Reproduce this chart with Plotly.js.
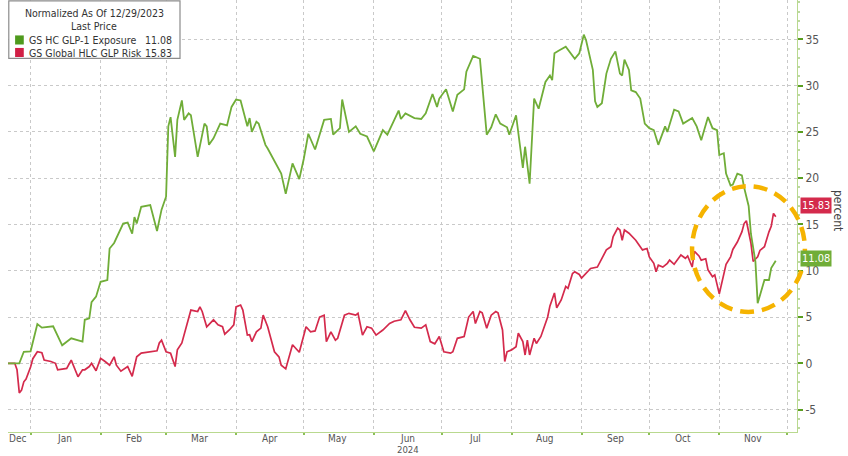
<!DOCTYPE html>
<html><head><meta charset="utf-8">
<script src="https://cdn.plot.ly/plotly-3.0.1.min.js"></script>
<style>html,body{margin:0;padding:0;background:#fff}#chart{width:848px;height:456px}</style>
</head><body><div id="chart"></div>
<script>
const seriesNames = ['GS HC GLP-1 Exposure', 'GS Global HLC GLP Risk'];
const lastPrices = [11.08, 15.83];
const headerLines = ['Normalized As Of 12/29/2023', 'Last Price'];

const glpDates = ['2023-12-22','2023-12-25','2023-12-27','2023-12-29','2024-01-01','2024-01-04','2024-01-06','2024-01-11','2024-01-15','2024-01-19',
'2024-01-24','2024-01-25','2024-01-27','2024-01-28','2024-01-30','2024-02-01','2024-02-04','2024-02-05','2024-02-07','2024-02-11',
'2024-02-13','2024-02-15','2024-02-16','2024-02-17','2024-02-19','2024-02-23','2024-02-26','2024-02-28','2024-03-01','2024-03-02',
'2024-03-03','2024-03-05','2024-03-06','2024-03-08','2024-03-09','2024-03-11','2024-03-12','2024-03-15','2024-03-18','2024-03-19',
'2024-03-20','2024-03-22','2024-03-25','2024-03-28','2024-03-30','2024-04-01','2024-04-03','2024-04-06','2024-04-07','2024-04-08',
'2024-04-10','2024-04-11','2024-04-14','2024-04-15','2024-04-18','2024-04-21','2024-04-23','2024-04-26','2024-04-29','2024-05-01',
'2024-05-03','2024-05-06','2024-05-10','2024-05-13','2024-05-14','2024-05-17','2024-05-18','2024-05-21','2024-05-24','2024-05-26',
'2024-05-29','2024-06-01','2024-06-05','2024-06-07','2024-06-12','2024-06-13','2024-06-15','2024-06-19','2024-06-22','2024-06-24',
'2024-06-27','2024-06-29','2024-06-30','2024-07-03','2024-07-06','2024-07-08','2024-07-11','2024-07-12','2024-07-15','2024-07-18',
'2024-07-21','2024-07-23','2024-07-25','2024-07-27','2024-07-30','2024-07-31','2024-08-03','2024-08-06','2024-08-07','2024-08-09',
'2024-08-11','2024-08-13','2024-08-16','2024-08-18','2024-08-19','2024-08-20','2024-08-22','2024-08-25','2024-08-29','2024-08-31',
'2024-09-02','2024-09-03','2024-09-06','2024-09-07','2024-09-08','2024-09-10','2024-09-12','2024-09-14','2024-09-16','2024-09-18',
'2024-09-19','2024-09-20','2024-09-22','2024-09-23','2024-09-25','2024-09-27','2024-09-29','2024-10-01','2024-10-03','2024-10-05',
'2024-10-08','2024-10-09','2024-10-12','2024-10-14','2024-10-16','2024-10-20','2024-10-22','2024-10-24','2024-10-27','2024-10-29',
'2024-10-31','2024-11-01','2024-11-03','2024-11-04','2024-11-06','2024-11-07','2024-11-09','2024-11-11','2024-11-12','2024-11-14',
'2024-11-15','2024-11-17','2024-11-18','2024-11-20','2024-11-21','2024-11-23','2024-11-24','2024-11-26'];
const glpValues = [0,0,0,1.25,1.3,4.25,3.85,4.0,1.95,2.7,
2.35,4.7,4.85,6.6,7.2,8.8,9.0,12.4,13.0,15.1,
15.2,14.0,15.8,15.1,16.9,17.1,14.3,16.6,18.0,25.6,
26.6,22.3,26.3,28.4,26.3,27.0,26.8,22.3,25.9,25.6,
23.6,24.3,25.9,25.7,27.7,28.5,28.4,25.6,26.5,25.0,
26.1,25.9,23.6,23.2,21.8,20.5,18.3,21.6,19.9,22.1,
24.8,23.1,26.3,26.4,24.7,25.4,28.5,25.0,25.6,24.8,
24.5,22.9,25.2,24.7,27.3,26.4,27.0,26.5,26.4,27.0,
29.1,27.7,28.6,29.6,27.2,29.0,29.6,31.5,33.2,32.9,
24.7,25.5,26.9,25.9,25.5,24.7,26.8,21.1,23.4,19.4,
28.6,27.5,30.4,31.1,30.6,33.5,33.8,34.2,32.9,33.5,
35.5,34.9,31.7,28.3,27.7,28.1,31.3,32.9,33.7,31.3,
31.1,32.8,31.7,29.5,29.3,28.6,25.9,25.4,25.2,23.6,
25.6,25.0,27.4,27.2,25.9,26.5,25.6,24.1,26.6,25.4,
25.2,22.5,22.7,20.5,19.2,19.3,20.5,20.3,19.0,17.0,
14.0,11.0,6.5,8.0,9.0,9.0,10.3,11.08];

const hlcDates = ['2023-12-22','2023-12-25','2023-12-26','2023-12-27','2023-12-28','2023-12-29','2023-12-30','2024-01-01','2024-01-02','2024-01-04',
'2024-01-06','2024-01-07','2024-01-10','2024-01-12','2024-01-13','2024-01-15','2024-01-17','2024-01-19','2024-01-20','2024-01-22',
'2024-01-24','2024-01-25','2024-01-27','2024-01-28','2024-01-30','2024-02-01','2024-02-03','2024-02-05','2024-02-07','2024-02-08',
'2024-02-10','2024-02-12','2024-02-13','2024-02-15','2024-02-17','2024-02-19','2024-02-21','2024-02-24','2024-02-26','2024-02-27',
'2024-02-28','2024-03-01','2024-03-03','2024-03-05','2024-03-06','2024-03-08','2024-03-12','2024-03-15','2024-03-16','2024-03-17',
'2024-03-19','2024-03-22','2024-03-24','2024-03-26','2024-03-27','2024-03-29','2024-03-31','2024-04-01','2024-04-03','2024-04-04',
'2024-04-06','2024-04-07','2024-04-08','2024-04-10','2024-04-12','2024-04-13','2024-04-15','2024-04-18','2024-04-20','2024-04-21',
'2024-04-23','2024-04-26','2024-04-29','2024-05-02','2024-05-04','2024-05-06','2024-05-08','2024-05-10','2024-05-11','2024-05-13',
'2024-05-15','2024-05-16','2024-05-19','2024-05-21','2024-05-24','2024-05-25','2024-05-27','2024-05-29','2024-05-31','2024-06-02',
'2024-06-05','2024-06-08','2024-06-10','2024-06-13','2024-06-15','2024-06-17','2024-06-19','2024-06-22','2024-06-24','2024-06-26',
'2024-06-28','2024-06-30','2024-07-02','2024-07-05','2024-07-06','2024-07-08','2024-07-11','2024-07-13','2024-07-15','2024-07-16',
'2024-07-18','2024-07-19','2024-07-21','2024-07-23','2024-07-25','2024-07-26','2024-07-28','2024-07-29','2024-07-30','2024-08-01',
'2024-08-03','2024-08-04','2024-08-06','2024-08-07','2024-08-08','2024-08-09','2024-08-11','2024-08-12','2024-08-14','2024-08-17',
'2024-08-18','2024-08-20','2024-08-21','2024-08-23','2024-08-25','2024-08-26','2024-08-28','2024-08-29','2024-08-31','2024-09-01',
'2024-09-03','2024-09-05','2024-09-08','2024-09-10','2024-09-12','2024-09-14','2024-09-15','2024-09-17','2024-09-18','2024-09-19',
'2024-09-20','2024-09-22','2024-09-25','2024-09-27','2024-09-28','2024-09-30','2024-10-01','2024-10-03','2024-10-04','2024-10-05',
'2024-10-07','2024-10-09','2024-10-10','2024-10-12','2024-10-14','2024-10-15','2024-10-17','2024-10-18','2024-10-20','2024-10-21',
'2024-10-23','2024-10-24','2024-10-26','2024-10-27','2024-10-29','2024-10-30','2024-11-01','2024-11-02','2024-11-04','2024-11-06',
'2024-11-07','2024-11-09','2024-11-11','2024-11-12','2024-11-13','2024-11-15','2024-11-16','2024-11-18','2024-11-19','2024-11-21',
'2024-11-22','2024-11-23','2024-11-24','2024-11-25','2024-11-26'];
const hlcValues = [0,0,-0.7,-3.2,-2.9,-2.0,-1.7,-0.4,0.5,1.25,
1.15,0.35,0.2,0.0,-0.7,-0.65,-0.55,0.35,-0.2,-1.45,
-0.7,-0.7,-0.35,0.0,-0.8,0.55,0.2,-0.2,0.7,-0.2,
-0.85,-0.55,-0.35,-1.4,0.7,1.1,1.15,1.25,1.35,2.2,
2.5,1.25,1.1,-0.35,1.45,2.2,5.75,5.6,6.1,5.6,
3.95,4.7,4.15,3.95,3.15,3.6,4.15,6.1,6.3,5.75,
3.05,3.1,2.35,3.4,3.8,5.2,3.95,1.25,0.7,-0.2,
-0.6,2.0,1.2,3.95,3.4,3.5,5.0,5.2,2.35,3.4,
2.5,2.7,5.2,5.4,5.2,5.4,3.05,3.95,3.8,3.05,
3.6,4.3,4.55,4.7,5.7,4.7,3.9,3.8,4.15,2.35,
2.1,2.9,1.25,1.1,1.25,2.7,2.9,5.0,5.6,4.3,
5.6,5.45,3.8,5.2,5.6,5.45,3.6,0.2,1.25,1.45,
1.8,3.25,2.35,0.9,2.5,0.9,2.7,2.15,2.9,5.0,
6.2,7.6,6.0,6.85,8.3,8.1,9.7,9.9,9.6,9.2,
9.7,10.25,10.4,11.35,12.25,12.6,13.7,14.6,14.4,13.3,
14.4,14.05,13.3,12.6,12.25,12.4,11.5,10.8,9.9,10.6,
10.4,10.8,11.15,10.7,11.45,11.7,11.35,11.6,10.4,12.1,
11.6,11.15,11.3,10.1,9.35,9.55,7.5,8.6,10.7,11.5,
12.3,13.1,14.2,15.1,15.4,13.0,11.0,11.5,12.2,12.6,
13.5,14.2,14.8,16.2,15.83];

const monthStarts = ['2024-01-01','2024-02-01','2024-03-01','2024-04-01','2024-05-01','2024-06-01','2024-07-01','2024-08-01','2024-09-01','2024-10-01','2024-11-01','2024-12-01'];
const monthLabels = ['Jan','Feb','Mar','Apr','May','Jun','Jul','Aug','Sep','Oct','Nov'];
const firstLabel = 'Dec';
const yearLabel = '2024';
const yTicks = [-5, 0, 5, 10, 15, 20, 25, 30, 35];
const xRange = ['2023-12-22', '2024-12-05 10:00'];
const yRange = [-7.42, 39.25];

const GREEN = '#70ad38';
const RED = '#d42a4c';
const AXIS = '#b9d98f';
const FONT = 'Liberation Sans Narrow, DejaVu Sans Condensed, Arial Narrow, sans-serif';

const traces = [
  {x: hlcDates, y: hlcValues, type: 'scatter', mode: 'lines', name: seriesNames[1],
   line: {color: RED, width: 1.7}, hoverinfo: 'skip'},
  {x: glpDates, y: glpValues, type: 'scatter', mode: 'lines', name: seriesNames[0],
   line: {color: GREEN, width: 1.8}, hoverinfo: 'skip'}
];

const annotations = [];
monthLabels.forEach((m, i) => {
  const mid = monthStarts[i].slice(0, 8) + '16';
  annotations.push({x: mid, xref: 'x', y: 0.001, yref: 'paper', yanchor: 'top', xanchor: 'center', borderpad: 0,
    text: m, showarrow: false, font: {family: FONT, size: 10, color: '#555'}});
});
annotations.push({x: xRange[0], xref: 'x', y: 0.001, yref: 'paper', yanchor: 'top', xanchor: 'left', borderpad: 0,
  text: firstLabel, showarrow: false, font: {family: FONT, size: 10, color: '#555'}});
annotations.push({x: monthStarts[5].slice(0, 8) + '16', xref: 'x', y: -0.0545, yref: 'paper', yanchor: 'bottom', xanchor: 'center', borderpad: 0,
  text: yearLabel, showarrow: false, font: {family: FONT, size: 9.5, color: '#555'}});
annotations.push({x: 1.052, xref: 'paper', y: 0.514, yref: 'paper', xanchor: 'center', yanchor: 'middle',
  text: 'percent', textangle: 90, showarrow: false, font: {family: FONT, size: 12, color: '#444'}});
[[lastPrices[1], RED, 11], [lastPrices[0], GREEN, 2]].forEach(([v, c, sh]) => {
  annotations.push({x: 1.004, xref: 'paper', y: v, yref: 'y', xanchor: 'left', yanchor: 'middle', yshift: sh,
    text: v.toFixed(2), showarrow: false, bgcolor: c, borderpad: 1,
    font: {family: FONT, size: 11, color: '#fff'}});
});
annotations.push({x: 0.109, xref: 'paper', y: 0.970, yref: 'paper', xanchor: 'center', yanchor: 'middle',
  text: headerLines[0], showarrow: false, font: {family: FONT, size: 10.5, color: '#333'}});
annotations.push({x: 0.109, xref: 'paper', y: 0.940, yref: 'paper', xanchor: 'center', yanchor: 'middle',
  text: headerLines[1], showarrow: false, font: {family: FONT, size: 10.5, color: '#333'}});
[[seriesNames[0], lastPrices[0], 0.907], [seriesNames[1], lastPrices[1], 0.878]].forEach(([n, v, yy]) => {
  annotations.push({x: 0.024, xref: 'paper', y: yy, yref: 'paper', xanchor: 'left', yanchor: 'middle',
    text: n, showarrow: false, font: {family: FONT, size: 10.5, color: '#333'}});
  annotations.push({x: 0.210, xref: 'paper', y: yy, yref: 'paper', xanchor: 'right', yanchor: 'middle',
    text: v.toFixed(2), showarrow: false, font: {family: FONT, size: 10.5, color: '#333'}});
});

const shapes = [
  {type: 'rect', xref: 'paper', yref: 'paper', x0: 0.001, x1: 0.218, y0: 0.865, y1: 0.998,
   line: {color: '#8c8c8c', width: 1.2}, fillcolor: '#ffffff', layer: 'above'},
  {type: 'rect', xref: 'paper', yref: 'paper', x0: 0.009, x1: 0.020, y0: 0.897, y1: 0.918,
   line: {width: 0}, fillcolor: '#4f9a1d', layer: 'above'},
  {type: 'rect', xref: 'paper', yref: 'paper', x0: 0.009, x1: 0.020, y0: 0.868, y1: 0.889,
   line: {width: 0}, fillcolor: '#d11f45', layer: 'above'},
  {type: 'circle', xref: 'paper', yref: 'paper', x0: 0.867, x1: 1.010, y0: 0.278, y1: 0.569,
   line: {color: '#f5b300', width: 4.5, dash: '14px,8px'}, layer: 'above'}
];

const layout = {
  width: 848, height: 456,
  margin: {l: 8, r: 51, t: 0, b: 24},
  paper_bgcolor: '#fff', plot_bgcolor: '#fff',
  showlegend: false,
  font: {family: FONT, size: 10, color: '#555'},
  xaxis: {type: 'date', range: xRange, tickvals: monthStarts, showticklabels: false,
    showgrid: true, gridcolor: '#c9c9c9', griddash: 'dot', gridwidth: 1,
    ticks: 'outside', ticklen: 2, tickcolor: '#8cbf58', tickwidth: 2,
    showline: true, linecolor: AXIS, linewidth: 1, zeroline: false, fixedrange: true},
  yaxis: {range: yRange, side: 'right', tickvals: yTicks, ticktext: yTicks.map(String),
    showgrid: true, gridcolor: '#c9c9c9', griddash: 'dot', gridwidth: 1,
    ticks: 'outside', ticklen: 5, tickwidth: 2, tickcolor: '#5a9e20',
    minor: {dtick: 1, ticks: 'outside', ticklen: 2, tickcolor: '#bcd9a0', showgrid: false},
    tickfont: {family: FONT, size: 12, color: '#555'},
    showline: true, linecolor: AXIS, linewidth: 1, zeroline: false, fixedrange: true},
  annotations: annotations,
  shapes: shapes
};

Plotly.newPlot('chart', traces, layout, {staticPlot: true, displayModeBar: false});
</script>
</body></html>
